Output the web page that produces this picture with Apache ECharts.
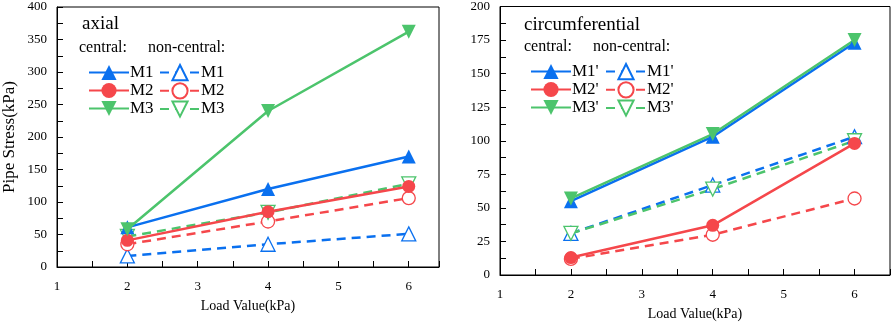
<!DOCTYPE html>
<html>
<head>
<meta charset="utf-8">
<script src="https://cdn.jsdelivr.net/npm/echarts@6/dist/echarts.min.js"></script>
<style>
  html, body { margin: 0; padding: 0; background: #fff; }
  #chart { width: 892px; height: 332px; }
</style>
</head>
<body>
<div id="chart"></div>
<script>
// load values on the x axis
const loads = [2, 4, 6];

// axial stress (kPa)
const axialCentral = {
  M1: [61, 120, 170],
  M2: [41, 85, 124],
  M3: [58, 240, 362],
};
const axialNonCentral = {
  M1: [17, 35, 51],
  M2: [35, 70, 106],
  M3: [47, 84, 128],
};

// circumferential stress (kPa)
const circCentral = {
  "M1'": [55, 103, 173],
  "M2'": [13, 37, 98],
  "M3'": [57, 105, 175],
};
const circNonCentral = {
  "M1'": [31, 67, 103],
  "M2'": [12, 30, 57],
  "M3'": [31, 64, 100],
};

const BLUE = '#0a70ef';
const RED = '#f5474b';
const GREEN = '#4cc46c';
const FONT = '"Liberation Serif", "Times New Roman", serif';

const colors = [BLUE, RED, GREEN];
const symbols = ['triangle', 'circle', 'path://M0,0 L10,0 L5,9 Z'];
const symSizes = [14, 13, 14];

function makeSeries(group, idx, central, tag) {
  return Object.keys(group).map((key, i) => ({
    name: key + ' ' + tag,
    type: 'line',
    xAxisIndex: idx,
    yAxisIndex: idx,
    data: loads.map((x, j) => [x, group[key][j]]),
    symbol: symbols[i],
    symbolSize: symSizes[i],
    color: colors[i],
    lineStyle: {
      color: colors[i],
      width: 2.5,
      type: central ? 'solid' : [9, 6],
    },
    itemStyle: central
      ? { color: colors[i], borderColor: colors[i], borderWidth: 0 }
      : { color: '#fff', borderColor: colors[i], borderWidth: 1.3 },
    z: central ? 3 : 2,
    animation: false,
  }));
}

const series = [
  ...makeSeries(axialCentral, 0, true, 'c'),
  ...makeSeries(axialNonCentral, 0, false, 'n'),
  ...makeSeries(circCentral, 1, true, 'c'),
  ...makeSeries(circNonCentral, 1, false, 'n'),
];

function xAxisCfg(idx, max) {
  return {
    type: 'value',
    gridIndex: idx,
    min: 1,
    max: max,
    interval: 1,
    name: 'Load Value(kPa)',
    nameLocation: 'middle',
    nameGap: 32,
    nameTextStyle: { fontFamily: FONT, fontSize: 14, color: '#000' },
    axisLine: { show: true, onZero: false, lineStyle: { color: '#000', width: 1 } },
    axisTick: { show: true, inside: true, length: 6, lineStyle: { color: '#000' } },
    minorTick: { show: true, splitNumber: 2, length: 6, lineStyle: { color: '#000' } },
    axisLabel: { fontFamily: FONT, fontSize: 13, color: '#000', margin: 13, showMaxLabel: false },
    splitLine: { show: false },
  };
}

function yAxisCfg(idx, max, interval, name) {
  return {
    type: 'value',
    gridIndex: idx,
    min: 0,
    max: max,
    interval: interval,
    name: name,
    nameLocation: 'middle',
    nameGap: 39,
    nameTextStyle: { fontFamily: FONT, fontSize: 17, color: '#000' },
    axisLine: { show: true, lineStyle: { color: '#000', width: 1 } },
    axisTick: { show: true, inside: true, length: 6, lineStyle: { color: '#000' } },
    minorTick: { show: true, splitNumber: 2, length: 6, lineStyle: { color: '#000' } },
    axisLabel: { fontFamily: FONT, fontSize: 13, color: '#000', margin: 10 },
    splitLine: { show: false },
  };
}

function legendCfg(group, tag, left, top) {
  return {
    data: Object.keys(group).map((k) => k + ' ' + tag),
    orient: 'vertical',
    left: left,
    top: top,
    itemWidth: 40,
    itemHeight: 19,
    itemGap: 1,
    selectedMode: false,
    formatter: (name) => name.split(' ')[0],
    textStyle: { fontFamily: FONT, fontSize: 17, color: '#000', padding: [0, 0, 0, -4] },
  };
}

function label(text, x, y, size) {
  return {
    type: 'text',
    left: x,
    top: y,
    style: { text: text, font: size + 'px ' + FONT, fill: '#000' },
  };
}

const chart = echarts.init(document.getElementById('chart'));
chart.setOption({
  animation: false,
  grid: [
    { left: 55, top: 7, width: 384, height: 260, show: true, borderColor: '#000', borderWidth: 1 },
    { left: 500, top: 6, width: 390, height: 269, show: true, borderColor: '#000', borderWidth: 1 },
  ],
  xAxis: [xAxisCfg(0, 6.43), xAxisCfg(1, 6.5)],
  yAxis: [yAxisCfg(0, 400, 50, 'Pipe Stress(kPa)'), yAxisCfg(1, 200, 25, '')],
  legend: [
    legendCfg(axialCentral, 'c', 83, 59),
    legendCfg(axialNonCentral, 'n', 154, 59),
    legendCfg(circCentral, 'c', 525, 58),
    legendCfg(circNonCentral, 'n', 600, 58),
  ],
  graphic: [
    label('axial', 82, 15, 19),
    label('central:', 79, 40, 16),
    label('non-central:', 148, 40, 16),
    label('circumferential', 524, 16, 19),
    label('central:', 524, 39, 16),
    label('non-central:', 593, 39, 16),
  ],
  series: series,
});
</script>
</body>
</html>
